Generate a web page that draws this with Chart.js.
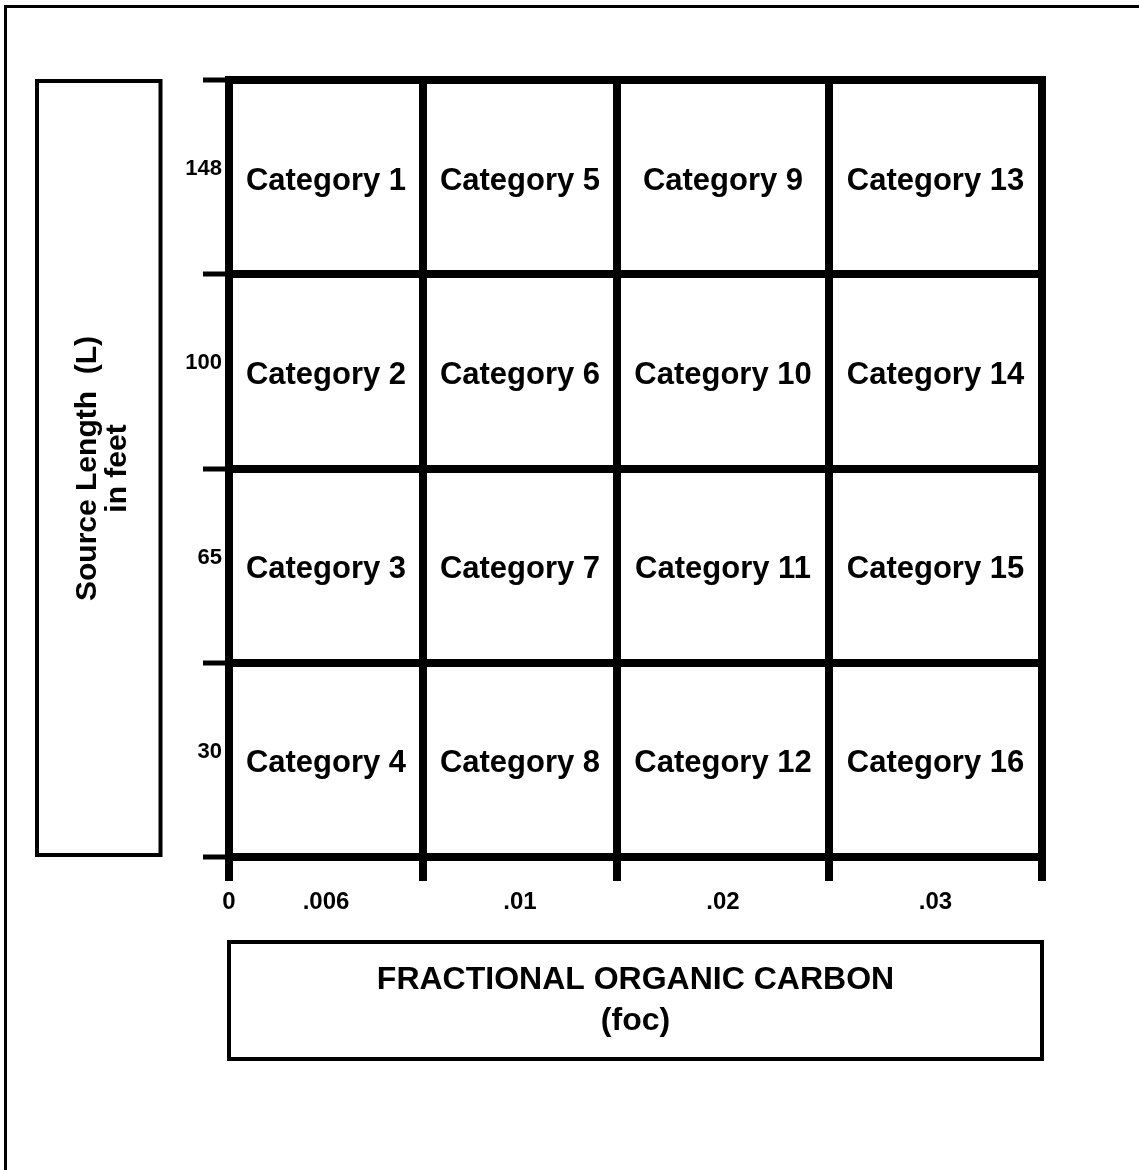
<!DOCTYPE html>
<html>
<head>
<meta charset="utf-8">
<script src="https://cdn.jsdelivr.net/npm/chart.js@4.4.1/dist/chart.umd.min.js"></script>
<style>
  html, body { margin: 0; padding: 0; background: #fff; overflow: hidden; }
  #wrap { position: relative; width: 1139px; height: 1170px; }
</style>
</head>
<body>
<div id="wrap"><canvas id="gridChart"></canvas></div>
<script>
// ─── DATA ───────────────────────────────
// first x label sits on the left edge, the others under each column
const xLabels = ['0', '.006', '.01', '.02', '.03'];
const yLabels = ['148', '100', '65', '30'];
// column by column, top to bottom
const categoryNames = [
  'Category 1', 'Category 2', 'Category 3', 'Category 4',
  'Category 5', 'Category 6', 'Category 7', 'Category 8',
  'Category 9', 'Category 10', 'Category 11', 'Category 12',
  'Category 13', 'Category 14', 'Category 15', 'Category 16'
];

// ─── LAYOUT (column widths in px) ───────
const colWidths = [194, 194, 212, 213];
const colEdges = colWidths.reduce((acc, w) => { acc.push(acc[acc.length - 1] + w); return acc; }, [0]);
const colCenters = colWidths.map((w, i) => colEdges[i] + w / 2);
const isEdge = v => colEdges.some(e => Math.abs(e - v) < 1e-6);

const FONT = "'Liberation Sans', Arial, sans-serif";
Chart.defaults.font.family = FONT;
Chart.defaults.color = '#000';

const points = categoryNames.map((name, k) => ({
  x: colCenters[Math.floor(k / yLabels.length)],
  y: yLabels[k % yLabels.length]
}));

// ─── CELL TEXT ──────────────────────────
const cellText = {
  id: 'cellText',
  afterDatasetsDraw(chart) {
    const ctx = chart.ctx;
    const meta = chart.getDatasetMeta(0);
    ctx.save();
    ctx.fillStyle = '#000';
    ctx.font = 'bold 31px ' + FONT;
    ctx.textAlign = 'center';
    ctx.textBaseline = 'middle';
    meta.data.forEach((pt, i) => ctx.fillText(categoryNames[i], pt.x, pt.y + 4));
    ctx.restore();
  }
};

// ─── FRAME + TITLE BOXES ────────────────
const decor = {
  id: 'decor',
  afterDraw(chart) {
    const { ctx, chartArea: a } = chart;
    ctx.save();
    ctx.strokeStyle = '#000';
    // outer page border
    ctx.lineWidth = 3;
    ctx.strokeRect(5.5, 6.5, chart.width + 50, chart.height + 50);
    // y title box
    ctx.lineWidth = 4;
    ctx.strokeRect(37, a.top + 1, 123.5, a.bottom - a.top - 3);
    // x title box
    ctx.strokeRect(a.left, 942, a.right - a.left, 117);
    // grid frame (square corners)
    ctx.lineWidth = 8;
    ctx.strokeRect(a.left, a.top, a.right - a.left, a.bottom - a.top);
    ctx.restore();
  }
};

new Chart(document.getElementById('gridChart'), {
  type: 'scatter',
  data: {
    datasets: [{
      data: points,
      pointRadius: 0,
      pointHoverRadius: 0
    }]
  },
  options: {
    responsive: true,
    maintainAspectRatio: false,
    animation: false,
    events: [],
    layout: { padding: { left: 0, top: 80, right: 97, bottom: 0 } },
    plugins: {
      legend: { display: false },
      tooltip: { enabled: false }
    },
    scales: {
      x: {
        type: 'linear',
        min: 0,
        max: colEdges[colEdges.length - 1],
        afterBuildTicks: s => {
          s.ticks = [...colEdges, ...colCenters].sort((a, b) => a - b).map(v => ({ value: v }));
        },
        afterFit: s => { s.height = 313; },
        border: { display: false },
        grid: {
          color: '#000',
          lineWidth: c => (c.tick && isEdge(c.tick.value)) ? 8 : 0,
          tickWidth: c => (c.tick && isEdge(c.tick.value)) ? 8 : 0,
          tickColor: '#000',
          tickLength: 24
        },
        ticks: {
          autoSkip: false,
          maxRotation: 0,
          padding: 7,
          font: { size: 24, weight: 'bold' },
          callback: v => {
            if (Math.abs(v) < 1e-6) return xLabels[0];
            const j = colCenters.findIndex(c => Math.abs(c - v) < 1e-6);
            return j >= 0 ? xLabels[j + 1] : '';
          }
        },
        title: {
          display: true,
          text: ['FRACTIONAL ORGANIC CARBON', '(foc)'],
          font: { size: 32, weight: 'bold', lineHeight: 1.28 },
          padding: { top: 0, bottom: 128 }
        }
      },
      y: {
        type: 'category',
        labels: yLabels,
        offset: true,
        afterFit: s => { s.width = 229; },
        border: { display: false },
        grid: {
          offset: true,
          color: '#000',
          lineWidth: 8,
          tickWidth: 5,
          tickColor: '#000',
          tickLength: 26
        },
        ticks: {
          padding: -19,
          labelOffset: -8,
          font: { size: 22, weight: 'bold' }
        },
        title: {
          display: true,
          text: ['Source Length  (L)', 'in feet'],
          font: { size: 30, weight: 'bold', lineHeight: 1.0 },
          padding: { top: 73, bottom: 0 }
        }
      }
    }
  },
  plugins: [cellText, decor]
});
</script>
</body>
</html>
